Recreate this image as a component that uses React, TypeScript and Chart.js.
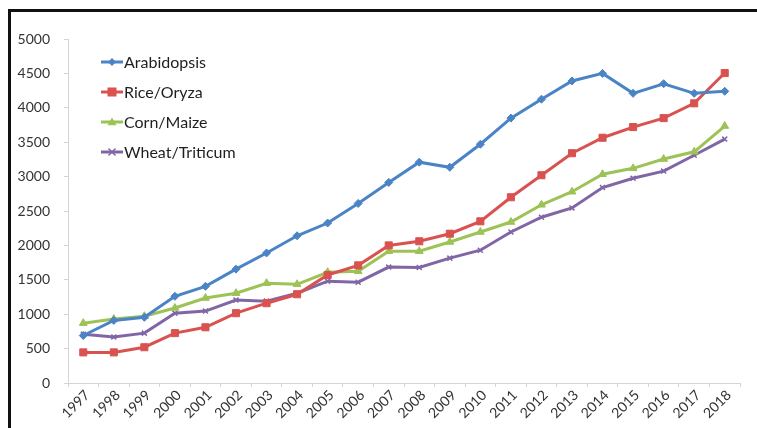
import React, { useEffect, useRef } from "react";
import { Chart, registerables } from "chart.js";

Chart.register(...registerables);

const years = ["1997","1998","1999","2000","2001","2002","2003","2004","2005","2006","2007","2008","2009","2010","2011","2012","2013","2014","2015","2016","2017","2018"];
const arabidopsis = [690, 910, 955, 1260, 1405, 1655, 1890, 2140, 2325, 2610, 2915, 3210, 3135, 3470, 3850, 4125, 4390, 4500, 4210, 4350, 4210, 4240];
const rice = [445, 445, 520, 725, 810, 1015, 1160, 1290, 1570, 1710, 2000, 2060, 2170, 2350, 2700, 3020, 3340, 3565, 3720, 3850, 4065, 4505];
const corn = [870, 930, 970, 1090, 1235, 1305, 1450, 1435, 1610, 1625, 1915, 1915, 2050, 2195, 2340, 2590, 2780, 3035, 3120, 3255, 3360, 3735];
const wheat = [710, 670, 725, 1015, 1045, 1205, 1190, 1305, 1480, 1465, 1685, 1680, 1815, 1930, 2195, 2410, 2545, 2840, 2975, 3080, 3310, 3545];
const seriesNames = ["Arabidopsis", "Rice/Oryza", "Corn/Maize", "Wheat/Triticum"];
const seriesColors = ["#4A84C6", "#D9524F", "#9DC256", "#8166A6"];
const seriesMarkers = ["rectRot", "rect", "triangle", "crossRot"];
const markerSizes = [4, 5, 4.5, 3.5];

const FONT = "Lato, 'DejaVu Sans', sans-serif";

function drawMarker(ctx: CanvasRenderingContext2D, style: string, x: number, y: number, r: number, color: string) {
  ctx.save();
  ctx.fillStyle = color;
  ctx.strokeStyle = color;
  ctx.lineWidth = 1.5;
  ctx.beginPath();
  if (style === "rectRot") {
    ctx.moveTo(x, y - r); ctx.lineTo(x + r, y); ctx.lineTo(x, y + r); ctx.lineTo(x - r, y); ctx.closePath(); ctx.fill();
  } else if (style === "rect") {
    ctx.rect(x - r * 0.9, y - r * 0.9, r * 1.8, r * 1.8); ctx.fill();
  } else if (style === "triangle") {
    ctx.moveTo(x, y - r); ctx.lineTo(x + r, y + r * 0.7); ctx.lineTo(x - r, y + r * 0.7); ctx.closePath(); ctx.fill();
  } else {
    ctx.moveTo(x - r, y - r); ctx.lineTo(x + r, y + r); ctx.moveTo(x + r, y - r); ctx.lineTo(x - r, y + r); ctx.stroke();
  }
  ctx.restore();
}

const framePlugin = {
  id: "frame",
  beforeDraw(chart: any) {
    const ctx = chart.ctx as CanvasRenderingContext2D;
    ctx.save();
    ctx.fillStyle = "#ffffff";
    ctx.fillRect(0, 0, chart.width, chart.height);
    ctx.fillStyle = "#111111";
    ctx.fillRect(8, 9, chart.width - 8, 3);
    ctx.fillRect(8, 9, 3, chart.height - 9);
    ctx.restore();
  },
};

const legendPlugin = {
  id: "vertLegend",
  afterDraw(chart: any) {
    const ctx = chart.ctx as CanvasRenderingContext2D;
    ctx.save();
    seriesNames.forEach((name, i) => {
      const y = 62 + i * 30;
      ctx.strokeStyle = seriesColors[i];
      ctx.lineWidth = 3;
      ctx.beginPath();
      ctx.moveTo(101, y);
      ctx.lineTo(123, y);
      ctx.stroke();
      drawMarker(ctx, seriesMarkers[i], 112, y, markerSizes[i], seriesColors[i]);
      ctx.fillStyle = "#1E1E1E";
      ctx.font = `16px ${FONT}`;
      ctx.textBaseline = "middle";
      ctx.textAlign = "left";
      ctx.fillText(name, 124, y + 1);
    });
    ctx.restore();
  },
};

export default function App() {
  const ref = useRef<HTMLCanvasElement>(null);
  useEffect(() => {
    if (!ref.current) return;
    const datasets = [arabidopsis, rice, corn, wheat].map((d, i) => ({
      label: seriesNames[i],
      data: d,
      borderColor: seriesColors[i],
      backgroundColor: seriesColors[i],
      borderWidth: 3,
      pointStyle: seriesMarkers[i] as any,
      pointRadius: markerSizes[i],
      pointBorderWidth: i === 3 ? 1.5 : 1,
      pointBorderColor: seriesColors[i],
      pointBackgroundColor: seriesColors[i],
      tension: 0,
    }));
    const tickFont = { family: FONT, size: 14 };
    const chart = new Chart(ref.current, {
      type: "line",
      data: { labels: years, datasets },
      plugins: [framePlugin, legendPlugin],
      options: {
        animation: false,
        responsive: false,
        layout: { padding: { top: 39, left: 0, right: 17, bottom: 0 } },
        plugins: { legend: { display: false }, tooltip: { enabled: false } },
        scales: {
          x: {
            type: "category",
            offset: true,
            grid: { display: true, drawOnChartArea: false, drawTicks: true, tickLength: 4, offset: true, color: "#D4D4D4" },
            border: { color: "#D4D4D4" },
            ticks: { autoSkip: false, minRotation: 45, maxRotation: 45, padding: 0, labelOffset: 4, font: tickFont, color: "#333333" },
            afterFit: (s: any) => { s.height = 45; },
          },
          y: {
            min: 0,
            max: 5000,
            grid: { display: true, drawOnChartArea: false, drawTicks: true, tickLength: 4, color: "#D4D4D4" },
            border: { color: "#D4D4D4" },
            ticks: { stepSize: 500, padding: 14, font: tickFont, color: "#333333", callback: (v: any) => String(v) },
            afterFit: (s: any) => { s.width = 68; },
          },
        },
      },
    } as any);
    return () => chart.destroy();
  }, []);
  return (
    <div style={{ position: "fixed", left: 0, top: 0, width: 757, height: 428, overflow: "hidden", background: "#fff" }}>
      <canvas ref={ref} width={757} height={428} style={{ position: "absolute", left: 0, top: 0, width: 757, height: 428 }} />
    </div>
  );
}
